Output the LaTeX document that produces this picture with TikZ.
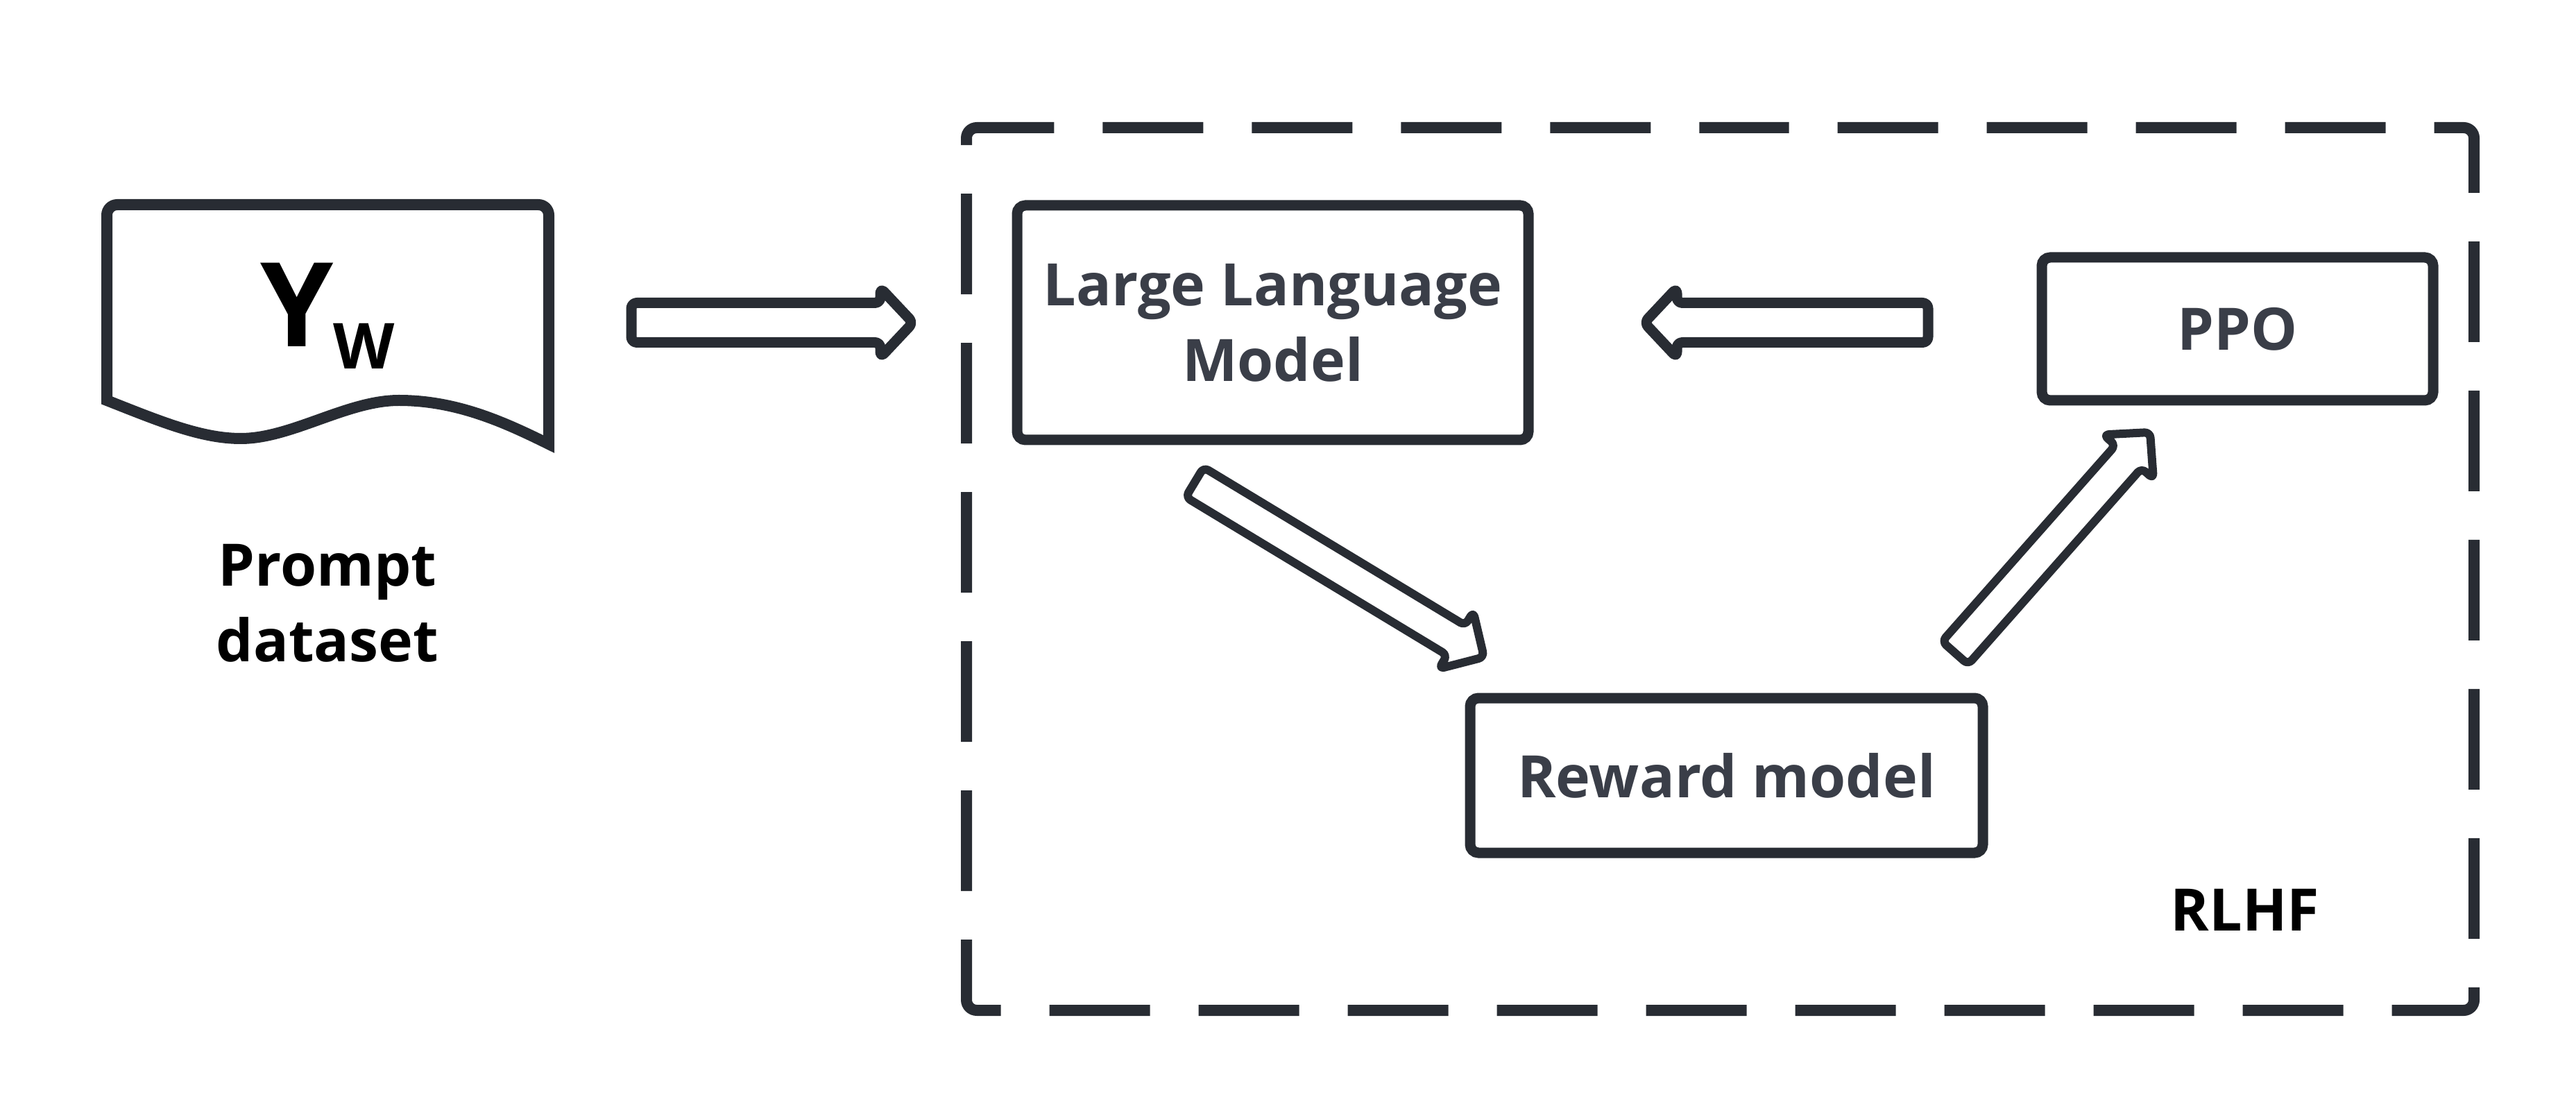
\documentclass[tikz,border=0pt]{standalone}
\usepackage{fontspec}
\setmainfont{Open Sans}
\usetikzlibrary{calc}

\definecolor{inkline}{RGB}{40,44,51}
\definecolor{inktext}{RGB}{58,62,72}

\tikzset{
    stage/.style={draw=inkline, line width=0.15cm, rounded corners=0.12cm, inner sep=0pt, outer sep=0pt,
        align=center, text=inktext, font=\bfseries\fontsize{24}{31}\selectfont},
    tagtext/.style={inner sep=0pt, align=center, text=black, font=\bfseries\fontsize{24}{31}\selectfont},
    fatarrow/.style={draw=inkline, fill=white, line width=0.15cm, rounded corners=0.08cm, line join=round},
    frame/.style={draw=inkline, line width=0.16cm, dash pattern=on 1.45cm off 0.70cm, dash phase=0.61cm,
        rounded corners=0.15cm},
    docline/.style={draw=inkline, line width=0.16cm}
}

% hollow block arrow from #2 to #3 (shaft half width, wing half width, head length)
\newcommand{\fatarrow}[6][]{%
    \coordinate (fa-base) at ($(#3)!#6!(#2)$);
    \draw[fatarrow,#1] ($(#2)!#4!90:(#3)$) -- ($(fa-base)!#4!90:(#3)$) -- ($(fa-base)!#5!90:(#3)$) -- (#3)
        -- ($(fa-base)!#5!-90:(#3)$) -- ($(fa-base)!#4!-90:(#3)$) -- ($(#2)!#4!-90:(#3)$) -- cycle;%
}

\begin{document}
\begin{tikzpicture}
    \useasboundingbox (0,0) rectangle (37.13,15.90);

    % Prompt dataset
    \draw[docline] (1.54,10.13) -- (1.54,12.80) arc[start angle=180, end angle=90, radius=0.15]
        -- (7.76,12.95) arc[start angle=90, end angle=0, radius=0.15] -- (7.91,9.50)
        .. controls (7.30,9.80) and (6.60,10.13) .. (5.75,10.13)
        .. controls (5.00,10.13) and (4.20,9.58) .. (3.47,9.58)
        .. controls (2.90,9.58) and (2.30,9.83) .. (1.54,10.13) -- cycle;
    \node[tagtext, anchor=base] (yw) at (4.72,10.90)
        {{\fontsize{48}{48}\selectfont Y}\raisebox{-0.32cm}{\fontsize{26}{26}\selectfont W}};
    \node[tagtext] (prompt) at (4.72,7.21) {Prompt\\dataset};

    % RLHF loop
    \draw[frame] (24.795,14.06) -- (35.66,14.06) -- (35.66,1.34) -- (13.93,1.34) -- (13.93,14.06) -- cycle;
    \node[tagtext] (rlhf) at (32.36,2.79) {RLHF};

    % Stages
    \node[stage, minimum width=7.37cm, minimum height=3.38cm] (llm) at (18.345,11.25) {Large Language\\Model};
    \node[stage, minimum width=5.64cm, minimum height=2.06cm] (ppo) at (32.25,11.16) {PPO};
    \node[stage, minimum width=7.39cm, minimum height=2.23cm] (reward) at (24.885,4.725) {Reward model};

    % Arrows
    \coordinate (in-s) at ([xshift=-5.56cm]llm.west);
    \coordinate (in-e) at ([xshift=-1.50cm]llm.west);
    \fatarrow{in-s}{in-e}{0.285cm}{0.50cm}{0.47cm}

    \coordinate (back-s) at ([xshift=5.76cm]llm.east);
    \coordinate (back-e) at ([xshift=1.67cm]llm.east);
    \fatarrow{back-s}{back-e}{0.285cm}{0.50cm}{0.47cm}

    \coordinate (score-s) at ($(llm.south)+(-1.125,-0.61)$);
    \coordinate (score-e) at ($(reward.north west)+(0.20,0.59)$);
    \fatarrow[line width=0.12cm]{score-s}{score-e}{0.25cm}{0.48cm}{0.47cm}

    \coordinate (tune-s) at ($(reward.north east)+(-0.40,0.65)$);
    \coordinate (tune-e) at ($(ppo.south west)+(1.56,-0.46)$);
    \fatarrow[line width=0.12cm]{tune-s}{tune-e}{0.25cm}{0.48cm}{0.47cm}

\end{tikzpicture}
\end{document}
